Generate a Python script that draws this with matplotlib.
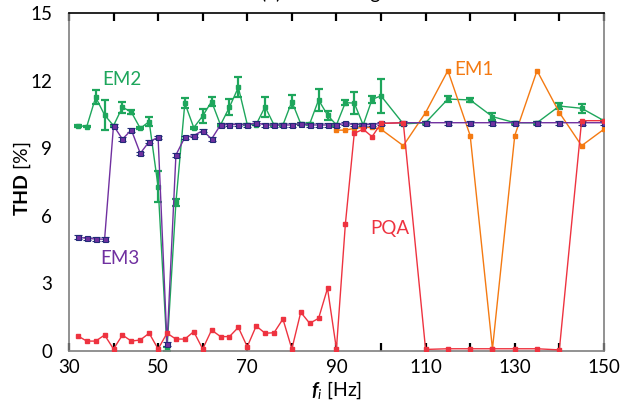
import numpy as np
import matplotlib
matplotlib.use("Agg")
import matplotlib.pyplot as plt

plt.rcParams['font.family'] = ['Lato', 'DejaVu Sans']
plt.rcParams['mathtext.fontset'] = 'custom'
plt.rcParams['mathtext.rm'] = 'Lato'
plt.rcParams['mathtext.it'] = 'Lato:italic'
plt.rcParams['mathtext.bf'] = 'Lato:bold'
plt.rcParams['mathtext.bfit'] = 'Lato:bold:italic'

freq = [32, 34, 36, 38, 40, 42, 44, 46, 48, 50, 52, 54, 56, 58, 60, 62, 64, 66, 68, 70,
        72, 74, 76, 78, 80, 82, 84, 86, 88, 90, 92, 94, 96, 98, 100,
        105, 110, 115, 120, 125, 130, 135, 140, 145, 150]

em2 = [10.0, 9.96, 11.26, 10.47, 10.0, 10.82, 10.6, 9.88, 10.18, 7.29,
       0.08, 6.6, 11.0, 9.91, 10.43, 11.07, 10.03, 10.82, 11.7, 10.05,
       10.05, 10.84, 10.03, 10.03, 11.07, 10.08, 10.08, 11.14, 10.47, 10.03,
       11.02, 11.0, 10.03, 11.17, 11.32,
       10.08, 10.13, 11.18, 11.14, 10.4, 10.13, 10.13, 10.87, 10.77, 10.22]
em2_err = [0.04, 0.04, 0.3, 0.65, 0.04, 0.24, 0.1, 0.04, 0.2, 0.68,
           0.1, 0.15, 0.22, 0.04, 0.33, 0.22, 0.04, 0.35, 0.45, 0.04,
           0.04, 0.45, 0.04, 0.04, 0.3, 0.04, 0.04, 0.5, 0.2, 0.04,
           0.1, 0.5, 0.04, 0.15, 0.75,
           0.04, 0.04, 0.15, 0.1, 0.15, 0.04, 0.04, 0.15, 0.2, 0.04]

em3 = [5.05, 5.0, 4.97, 4.96, 10.0, 9.4, 9.81, 8.77, 9.29, 9.48,
       0.31, 8.7, 9.48, 9.56, 9.78, 9.41, 10.03, 10.05, 10.05, 10.03,
       10.13, 10.03, 10.03, 10.03, 10.03, 10.09, 10.03, 10.03, 10.03, 10.03,
       10.1, 10.05, 10.05, 10.05, 10.1,
       10.13, 10.13, 10.13, 10.13, 10.13, 10.13, 10.13, 10.13, 10.13, 10.13]
em3_err = [0.08] * 45

pqa = [0.67, 0.44, 0.44, 0.71, 0.09, 0.71, 0.44, 0.49, 0.79, 0.09,
       0.79, 0.53, 0.53, 0.86, 0.09, 0.93, 0.64, 0.64, 1.05, 0.19,
       1.11, 0.79, 0.81, 1.42, 0.09, 1.72, 1.23, 1.45, 2.78, 0.09,
       5.62, 9.66, 9.84, 9.51, 10.1,
       10.13, 0.07, 0.1, 0.1, 0.1, 0.1, 0.1, 0.05, 10.22, 10.22]

em1_freq = [90, 92, 94, 96, 98, 100, 105, 110, 115, 120, 125, 130, 135, 140, 145, 150]
em1 = [9.8, 9.8, 9.88, 9.92, 9.92, 9.84, 9.11, 10.58, 12.44, 9.56, 0.09, 9.56, 12.44, 10.58, 9.11, 9.84]

x_ticks = [30, 50, 70, 90, 110, 130, 150]
y_ticks = [0, 3, 6, 9, 12, 15]

c_em1 = '#f47a12'
c_em2 = '#1ea65c'
c_em3 = '#7030a0'
c_em3_edge = '#232a78'
c_pqa = '#ee3340'

fig = plt.figure(figsize=(6.21, 4.05), dpi=100)
ax = fig.add_axes([0.111, 0.1333, 0.8615, 0.8347])

ax.errorbar(freq, em2, yerr=em2_err, color=c_em2, lw=1.0, marker='s', ms=3.2,
            elinewidth=1.6, capsize=2.8, capthick=1.6, zorder=2)
ax.plot(em1_freq, em1, color=c_em1, lw=1.0, marker='s', ms=3.2, zorder=3)
ax.errorbar(freq, em3, yerr=em3_err, color=c_em3, lw=1.0, marker='s', ms=3.6,
            mec=c_em3_edge, mew=0.8, ecolor=c_em3_edge,
            elinewidth=1.4, capsize=2.8, capthick=1.4, zorder=4)
ax.plot(freq, pqa, color=c_pqa, lw=1.0, marker='s', ms=3.0, zorder=5)

ax.set_xlim(30, 150)
ax.set_ylim(0, 15)
ax.set_xticks(np.arange(30, 151, 10))
ax.set_xticklabels([str(v) if v in x_ticks else '' for v in range(30, 151, 10)])
ax.set_yticks(y_ticks)
ax.tick_params(axis='x', direction='in', length=6, width=1.6, color='black',
               top=True, labelsize=13.5, pad=6)
ax.tick_params(axis='y', length=0, labelsize=13.5, pad=12)

for side in ['left', 'right', 'bottom']:
    ax.spines[side].set_color('#7f7f7f')
    ax.spines[side].set_linewidth(1.2)
ax.spines['top'].set_color('black')
ax.spines['top'].set_linewidth(1.2)

ax.set_ylabel(r'$\mathbf{THD}$ [%]', fontsize=14)
ax.yaxis.set_label_coords(-0.068, 0.51)
ax.set_xlabel(r'$\mathbfit{f}_{\mathit{i}}$ [Hz]', fontsize=14, labelpad=2)

ax.text(37.5, 12.05, 'EM2', color=c_em2, fontsize=13.5, va='center')
ax.text(116.5, 12.5, 'EM1', color=c_em1, fontsize=13.5, va='center')
ax.text(37.0, 4.1, 'EM3', color=c_em3, fontsize=13.5, va='center')
ax.text(97.5, 5.45, 'PQA', color=c_pqa, fontsize=13.5, va='center')

fig.text(0.42, 1 + 0.5 / 405, '(a) Low voltage', fontsize=14, ha='left', va='baseline')

fig.savefig('out.png', dpi=100)
